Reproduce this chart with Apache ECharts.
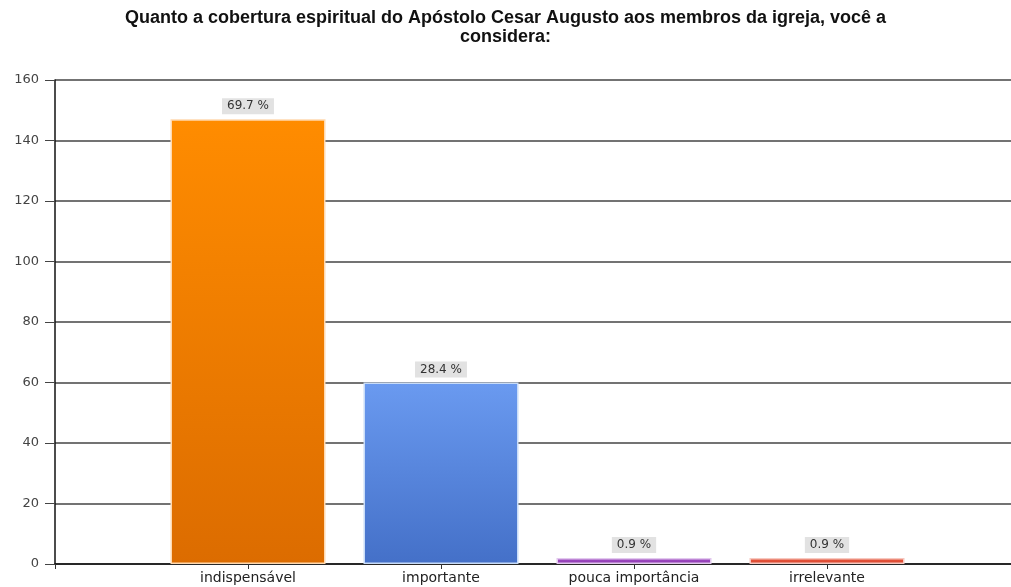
<!DOCTYPE html>
<html>
<head>
<meta charset="utf-8">
<script src="https://cdn.jsdelivr.net/npm/echarts@6/dist/echarts.min.js"></script>
<style>
  html, body { margin: 0; padding: 0; background: #fff; }
  #chart { width: 1011px; height: 587px; }
</style>
</head>
<body>
<div id="chart"></div>
<script>
// Answer categories and response counts
const categories = ['indispensável', 'importante', 'pouca importância', 'irrelevante'];
const counts = [147, 60, 2, 2];
const yTicks = [0, 20, 40, 60, 80, 100, 120, 140, 160];

// Bar fills: top colour, bottom colour, border colour
const barColors = [
  ['#ff8c00', '#dc6c00', '#ffd9b0'],
  ['#6a9af0', '#4470c8', '#c8dcf8'],
  ['#a04cc4', '#8e3ab0', '#e2c8ee'],
  ['#e8553c', '#d84830', '#f6c8c0']
];

const total = counts.reduce((a, b) => a + b, 0);

// Padding slots on each side so each bar sits on its own tick
const axisCats = [''].concat(categories, ['']);
const seriesData = [null].concat(counts.map((v, i) => ({
  value: v,
  itemStyle: {
    color: {
      type: 'linear', x: 0, y: 0, x2: 0, y2: 1,
      colorStops: [
        { offset: 0, color: barColors[i][0] },
        { offset: 1, color: barColors[i][1] }
      ]
    },
    borderColor: barColors[i][2],
    borderWidth: 1.5
  }
})), [null]);

const chart = echarts.init(document.getElementById('chart'), null, { renderer: 'canvas' });
chart.setOption({
  animation: false,
  backgroundColor: '#ffffff',
  title: {
    text: 'Quanto a cobertura espiritual do Apóstolo Cesar Augusto aos membros da igreja, você a\nconsidera:',
    left: 'center',
    top: 4,
    textStyle: {
      fontFamily: 'Liberation Sans, Arial, sans-serif',
      fontSize: 18,
      fontWeight: 'bold',
      color: '#111',
      lineHeight: 19
    }
  },
  grid: { left: 55, top: 80, right: -9, bottom: 23, containLabel: false, outerBoundsMode: 'none' },
  xAxis: {
    type: 'category',
    data: axisCats,
    boundaryGap: false,
    axisLine: { lineStyle: { color: '#111', width: 1.5 } },
    axisTick: { show: true, length: 5, lineStyle: { color: '#333' } },
    axisLabel: {
      interval: 0,
      margin: 7,
      fontFamily: 'DejaVu Sans, sans-serif',
      fontSize: 14,
      color: '#222'
    },
    splitLine: { show: false }
  },
  yAxis: {
    type: 'value',
    min: yTicks[0],
    max: yTicks[yTicks.length - 1],
    interval: 20,
    axisLine: { show: true, lineStyle: { color: '#111', width: 1.5 } },
    axisTick: { show: true, length: 10, lineStyle: { color: '#444' } },
    axisLabel: {
      margin: 16,
      fontFamily: 'DejaVu Sans, sans-serif',
      fontSize: 13,
      color: '#444'
    },
    splitLine: { show: true, lineStyle: { color: '#444', width: 1.5 } }
  },
  series: [{
    type: 'bar',
    data: seriesData,
    barWidth: 155,
    label: {
      show: true,
      position: 'top',
      distance: 5,
      formatter: p => (p.value / total * 100).toFixed(1) + ' %',
      backgroundColor: '#e2e2e2',
      padding: [2, 5, 2, 5],
      fontFamily: 'DejaVu Sans, sans-serif',
      fontSize: 12,
      color: '#333'
    }
  }]
});
</script>
</body>
</html>
